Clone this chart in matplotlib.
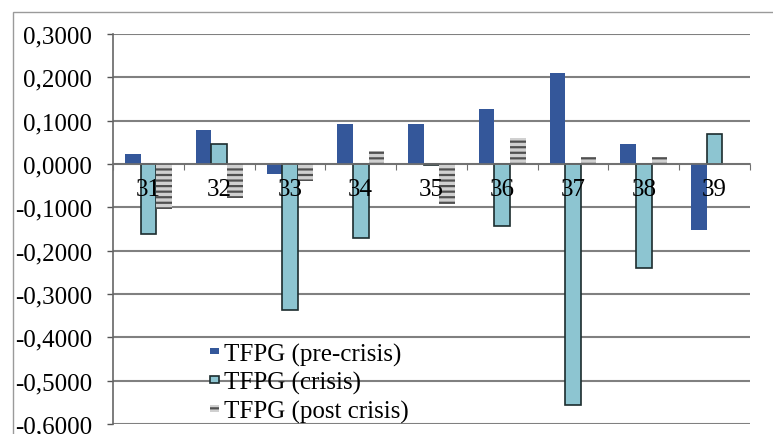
import numpy as np
import matplotlib
matplotlib.use("Agg")
import matplotlib.pyplot as plt
from matplotlib.patches import Patch, Rectangle
from matplotlib.ticker import FixedLocator, FuncFormatter

# TFP growth by sector, three periods
sectors = ["31", "32", "33", "34", "35", "36", "37", "38", "39"]
tfpg_pre = [0.023, 0.078, -0.022, 0.093, 0.093, 0.127, 0.209, 0.046, -0.152]
tfpg_crisis = [-0.161, 0.046, -0.336, -0.171, -0.003, -0.144, -0.555, -0.240, 0.069]
tfpg_post = [-0.104, -0.079, -0.039, 0.031, -0.093, 0.060, 0.016, 0.016, 0.0]
labels = ["TFPG (pre-crisis)", "TFPG (crisis)", "TFPG (post crisis)"]

plt.rcParams["font.family"] = ["Liberation Serif", "DejaVu Serif"]
plt.rcParams["hatch.linewidth"] = 1.6

W, H = 773, 435
fig = plt.figure(figsize=(W / 100, H / 100), dpi=100)
ax = fig.add_axes([113 / W, 10 / H, (750 - 113) / W, (425 - 35) / H])

x = np.arange(len(sectors))
bw = 0.22

pre_style = dict(color="#34579a", linewidth=0)
crisis_style = dict(facecolor="#8dc5d1", edgecolor="#1c2c2e", linewidth=1.2)
post_style = dict(facecolor="#d0d0d0", edgecolor="#505050", hatch="---", linewidth=0)

ax.bar(x - bw, tfpg_pre, bw, zorder=3, **pre_style)
ax.bar(x, tfpg_crisis, bw, zorder=3, **crisis_style)
ax.bar(x + bw, tfpg_post, bw, zorder=3, **post_style)

ax.set_xlim(-0.5, len(sectors) - 0.5)
ax.set_ylim(-0.6, 0.3)


def comma_fmt(v, pos):
    s = f"{v:.4f}".replace(".", ",")
    return "0,0000" if s == "-0,0000" else s


# y axis: comma decimals, gridlines every 0.1
yt = np.round(np.arange(-0.6, 0.31, 0.1), 1)
ax.yaxis.set_major_locator(FixedLocator(yt))
ax.yaxis.set_major_formatter(FuncFormatter(comma_fmt))
ax.tick_params(axis="y", length=4, width=1, color="#555555", pad=11, labelsize=18)
ax.grid(axis="y", color="#808080", linewidth=1.5, zorder=0)

# category axis crosses at zero, labels sit over the bars
ax.spines["bottom"].set_position(("data", 0))
ax.spines["bottom"].set_color("#707070")
ax.spines["bottom"].set_linewidth(1.2)
ax.spines["bottom"].set_zorder(4)
ax.set_xticks(np.arange(-0.5, len(sectors)), minor=False)
ax.set_xticklabels([])
ax.set_xticks(x, minor=True)
ax.set_xticklabels(sectors, minor=True)
ax.tick_params(axis="x", which="major", direction="out", length=4, color="#707070")
ax.tick_params(axis="x", which="minor", length=0, pad=10, labelsize=18)
ax.xaxis.set_zorder(5)

for s in ["top", "right"]:
    ax.spines[s].set_visible(False)
ax.spines["left"].set_color("#666666")
ax.spines["left"].set_linewidth(1.2)

handles = [Patch(**pre_style), Patch(**crisis_style), Patch(**post_style)]
fig.legend(handles, labels, loc="upper left",
           bbox_to_anchor=(197 / W, (H - 331) / H),
           frameon=False, fontsize=18, borderpad=0,
           handlelength=0.36, handleheight=0.05, handletextpad=0.22,
           labelspacing=0.22)

# outer chart border
fig.patches.append(Rectangle((13 / W, -0.05), 1.1, (H - 13) / H + 0.05,
                             transform=fig.transFigure, fill=False,
                             edgecolor="#9a9a9a", linewidth=1.0))

fig.savefig("out.png", dpi=100)
